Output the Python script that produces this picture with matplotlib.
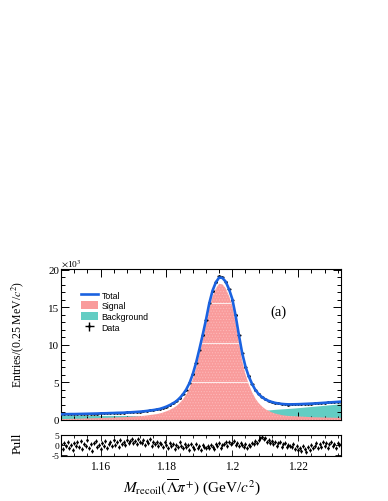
import numpy as np
import matplotlib
matplotlib.use("Agg")
import matplotlib.pyplot as plt
from matplotlib.patches import Patch
from matplotlib.lines import Line2D
from matplotlib.ticker import MultipleLocator

plt.rcParams['font.family'] = ['Liberation Serif', 'DejaVu Serif']
plt.rcParams['mathtext.fontset'] = 'stix'
plt.rcParams['hatch.linewidth'] = 0.5

# ---------------- data (values in units of 10^3 entries / 0.25 MeV) ----------------
x_start = 1.148          # GeV/c^2, first curve / data point
x_step = 0.001           # curve / data spacing
pull_step = 0.0005       # pull spacing

total = [0.76, 0.77, 0.78, 0.79, 0.79, 0.80, 0.81, 0.82, 0.83, 0.84,
         0.85, 0.86, 0.88, 0.89, 0.90, 0.92, 0.93, 0.95, 0.96, 0.97,
         1.00, 1.02, 1.05, 1.08, 1.11, 1.15, 1.20, 1.26, 1.32, 1.39,
         1.48, 1.62, 1.78, 1.98, 2.22, 2.50, 2.90, 3.40, 4.05, 4.90,
         6.10, 7.60, 9.40, 11.30, 13.30, 15.50, 17.20, 18.30, 18.95, 18.90,
         18.40, 17.40, 16.10, 13.90, 11.30, 8.90, 7.10, 5.80, 4.80, 4.00,
         3.45, 3.05, 2.75, 2.55, 2.40, 2.28, 2.20, 2.14, 2.10, 2.08,
         2.08, 2.09, 2.10, 2.12, 2.14, 2.16, 2.18, 2.20, 2.23, 2.26,
         2.29, 2.32, 2.35, 2.38, 2.41, 2.44]

signal = [0.12, 0.13, 0.14, 0.16, 0.16, 0.17, 0.18, 0.20, 0.21, 0.22,
          0.23, 0.24, 0.27, 0.28, 0.29, 0.31, 0.32, 0.35, 0.36, 0.37,
          0.40, 0.42, 0.45, 0.48, 0.51, 0.55, 0.60, 0.66, 0.71, 0.78,
          0.86, 1.00, 1.15, 1.34, 1.57, 1.84, 2.23, 2.72, 3.36, 4.20,
          5.39, 6.88, 8.66, 10.55, 12.53, 14.72, 16.40, 17.48, 18.11, 18.04,
          17.52, 16.50, 15.18, 12.95, 10.33, 7.90, 6.07, 4.74, 3.70, 2.86,
          2.26, 1.81, 1.45, 1.21, 1.02, 0.86, 0.75, 0.66, 0.59, 0.54,
          0.51, 0.49, 0.46, 0.44, 0.42, 0.40, 0.38, 0.36, 0.35, 0.34,
          0.33, 0.32, 0.31, 0.30, 0.29, 0.28]

background = [0.64, 0.64, 0.64, 0.63, 0.63, 0.63, 0.63, 0.62, 0.62, 0.62,
              0.62, 0.62, 0.61, 0.61, 0.61, 0.61, 0.61, 0.60, 0.60, 0.60,
              0.60, 0.60, 0.60, 0.60, 0.60, 0.60, 0.60, 0.60, 0.61, 0.61,
              0.62, 0.62, 0.63, 0.64, 0.65, 0.66, 0.67, 0.68, 0.69, 0.70,
              0.71, 0.72, 0.74, 0.75, 0.77, 0.78, 0.80, 0.82, 0.84, 0.86,
              0.88, 0.90, 0.92, 0.95, 0.97, 1.00, 1.03, 1.06, 1.10, 1.14,
              1.19, 1.24, 1.30, 1.34, 1.38, 1.42, 1.45, 1.48, 1.51, 1.54,
              1.57, 1.60, 1.64, 1.68, 1.72, 1.76, 1.80, 1.84, 1.88, 1.92,
              1.96, 2.00, 2.04, 2.08, 2.12, 2.16]

data = [0.77, 0.75, 0.79, 0.78, 0.80, 0.79, 0.82, 0.81, 0.84, 0.83,
        0.86, 0.85, 0.89, 0.88, 0.92, 0.91, 0.94, 0.96, 0.95, 0.99,
        1.02, 1.04, 1.07, 1.10, 1.12, 1.17, 1.21, 1.27, 1.31, 1.40,
        1.47, 1.61, 1.79, 1.97, 2.24, 2.49, 2.88, 3.42, 4.02, 4.93,
        6.07, 7.64, 9.36, 11.35, 13.24, 15.58, 17.15, 18.42, 19.10, 19.02,
        18.35, 17.48, 16.02, 13.95, 11.24, 8.95, 7.06, 5.84, 4.83, 4.04,
        3.50, 3.08, 2.78, 2.53, 2.42, 2.27, 2.21, 2.12, 2.11, 2.06,
        2.09, 2.07, 2.11, 2.10, 2.15, 2.14, 2.17, 2.21, 2.22, 2.27,
        2.28, 2.33, 2.34, 2.39, 2.40, 2.45]

pull = [0.8, -1.9, 1.3, -0.5, 1.8, -1.4, 0.3, -2.4, 1.1, -0.6,
        1.4, -1.0, 2.1, -1.8, 0.6, -0.3, 2.5, -1.3, 0.5, -2.7,
        1.0, 1.9, -0.8, 0.2, -2.1, 1.3, -0.6, 2.2, -1.4, 0.8,
        1.6, -0.5, 2.8, 0.3, 1.4, -1.0, 2.4, 0.6, 1.8, 0.0,
        2.7, 1.0, 2.1, 3.3, 1.3, 2.2, 0.5, 3.0, 1.6, 1.1,
        2.4, 0.3, 1.9, 1.0, 2.9, -0.2, 1.8, 0.8, 1.4, -0.6,
        1.3, 0.5, -1.0, 1.6, 0.2, -1.4, 1.0, -0.3, 0.6, -1.9,
        0.3, -1.1, 1.4, -0.5, -1.6, 0.8, -1.0, 0.2, -2.2, 0.5,
        -0.8, -1.8, 0.6, -1.3, -0.3, -2.5, 0.2, -1.1, -1.6, -0.5,
        -1.4, 0.3, -0.8, -1.9, 0.5, -0.6, 1.0, -1.3, 0.2, 0.8,
        1.4, -0.3, 1.8, 0.6, 1.1, 2.1, 0.3, 1.3, -0.5, 1.0,
        0.2, -1.0, 0.6, -1.4, 0.0, -0.6, 1.1, 0.5, 1.9, 1.0,
        2.8, 3.6, 4.2, 2.9, 3.4, 1.6, 2.5, 1.3, 2.1, 0.6,
        1.4, -0.3, 1.0, 1.8, -0.8, 0.5, 1.3, -1.1, 0.3, -0.5,
        -1.0, 0.6, -1.8, -0.5, -2.4, -1.3, -3.0, -0.6, -1.9, -3.3,
        -1.1, -2.2, 0.3, -1.4, -0.5, 1.0, -1.6, 0.6, -0.8, 1.6,
        -0.3, 1.1, -1.3, 0.5, 1.8, -0.6, 0.8, -1.6, 1.3, 0.3,
        0.6]

legend_labels = ["Total", "Signal", "Background", "Data"]
xticks = [1.16, 1.18, 1.20, 1.22]
xtick_labels = ["1.16", "1.18", "1.2", "1.22"]
yticks = [0, 5, 10, 15, 20]
pull_ticks = [-5, 0, 5]

# ---------------- derived positions ----------------
x = x_start + x_step * np.arange(len(total))
xp = x_start + pull_step * np.arange(len(pull))
data_arr = np.array(data)
data_err = np.sqrt(data_arr * 1000.0) / 1000.0

# ---------------- colours ----------------
c_total = "#1a62e0"
c_sig = "#f99b9b"
c_bkg = "#63cdc3"

fig = plt.figure(figsize=(3.88, 5.02), dpi=100)
ax = fig.add_axes([61 / 388, 81 / 502, 280 / 388, 151.5 / 502])
axp = fig.add_axes([61 / 388, 45.3 / 502, 280 / 388, 21 / 502])

ax.fill_between(x, 0, background, color=c_bkg, lw=0, zorder=1)
sig_poly = ax.fill_between(x, 0, signal, facecolor=c_sig, edgecolor="#fdb8b8",
                           hatch="......", lw=0, zorder=2)
for lvl in (5.1, 10.2, 15.6):
    ln = ax.axhline(lvl, color="white", lw=0.8, alpha=0.8, zorder=2.5)
    ln.set_clip_path(sig_poly.get_paths()[0], ax.transData)

eb = ax.errorbar(x, data, yerr=data_err, xerr=x_step / 2, fmt="o", ms=0.9,
                 color="black", lw=1.0, capsize=0, zorder=3)
ax.plot(x, total, color=c_total, lw=1.9, zorder=4)

ax.set_xlim(1.148, 1.233)
ax.set_ylim(0, 20.15)
ax.set_yticks(yticks)
ax.set_yticklabels([str(t) for t in yticks])
ax.yaxis.set_minor_locator(MultipleLocator(1))
ax.set_xticks(xticks)
ax.xaxis.set_minor_locator(MultipleLocator(0.004))
ax.tick_params(axis="both", which="both", direction="in", top=True, right=True,
               labelbottom=False, labelsize=7.9, width=0.7, pad=1.5)
ax.tick_params(axis="both", which="major", length=6)
ax.tick_params(axis="both", which="minor", length=3)
for s in ax.spines.values():
    s.set_linewidth(0.8)

ax.text(0.0, 1.003, r"$\times$10$^{3}$", transform=ax.transAxes, ha="left",
        va="bottom", fontsize=6.8)
ax.text(0.777, 0.72, "(a)", transform=ax.transAxes, ha="center", va="center",
        fontsize=10.5)

handles = [Line2D([], [], color=c_total, lw=1.9),
           Patch(facecolor=c_sig, edgecolor="none"),
           Patch(facecolor=c_bkg, edgecolor="none"),
           eb]
leg = ax.legend(handles, legend_labels, loc="upper left",
                bbox_to_anchor=(0.072, 0.855), frameon=False,
                prop={"family": "Liberation Sans", "size": 6.3},
                handlelength=1.9, handleheight=1.05, labelspacing=0.2,
                handletextpad=0.45, borderpad=0, borderaxespad=0)

# pull panel
axp.errorbar(xp, pull, yerr=1.0, xerr=pull_step / 2, fmt="o", ms=0.9,
             color="black", lw=0.7, capsize=0)
axp.set_xlim(1.148, 1.233)
axp.set_ylim(-5.3, 5.3)
axp.set_xticks(xticks)
axp.set_xticklabels(xtick_labels)
axp.xaxis.set_minor_locator(MultipleLocator(0.004))
axp.set_yticks(pull_ticks)
axp.set_yticklabels([str(t) for t in pull_ticks])
axp.tick_params(axis="both", which="both", direction="in", top=True, right=True,
                width=0.6)
axp.tick_params(axis="x", which="major", length=4, labelsize=8.3, pad=3)
axp.tick_params(axis="x", which="minor", length=2)
axp.tick_params(axis="y", which="major", length=4, labelsize=6.8, pad=1)
for s in axp.spines.values():
    s.set_linewidth(0.8)

fig.text(18 / 388, 1 - 334 / 502, r"Entries/(0.25 MeV/$c^{2}$)", rotation=90,
         ha="center", va="center", fontsize=8.5)
fig.text(18 / 388, 1 - 443 / 502, "Pull", rotation=90, ha="center",
         va="center", fontsize=9.5)
fig.text(192 / 388, 1 - 488 / 502,
         r"$M_{\mathrm{recoil}}(\overline{\Lambda}\pi^{+})$ (GeV/$c^{2}$)",
         ha="center", va="center", fontsize=11)

fig.savefig("out.png", dpi=100)
